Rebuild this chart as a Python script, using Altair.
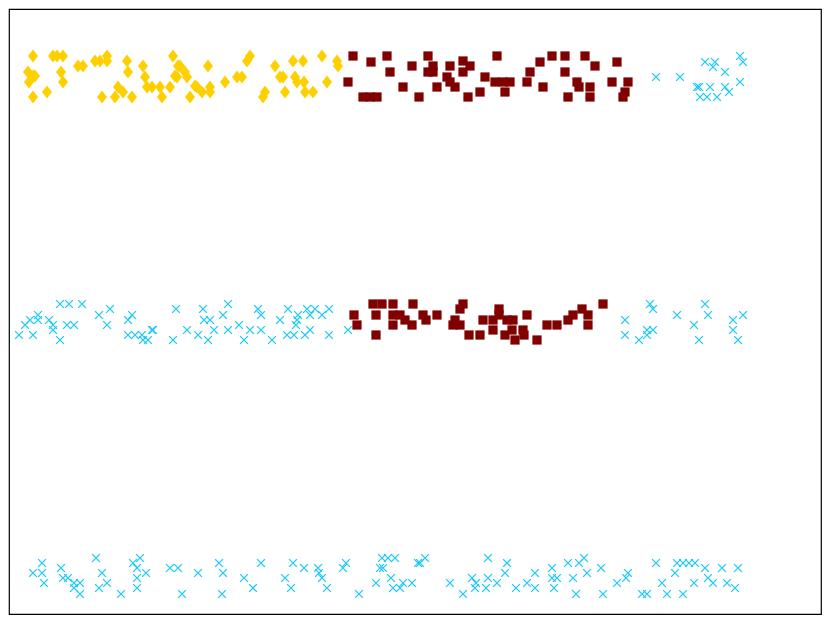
import altair as alt
import pandas as pd

# ---- data (x: horizontal position value, y: row value incl. jitter) ----
gold_x = [33, 53, 57, 63, 28, 33, 29, 33, 47, 61, 63, 78, 83, 95, 100, 107, 107, 127, 128, 143,
          145, 147, 152, 160, 170, 162, 118, 115, 123, 132, 102, 173, 178, 185, 177, 187, 208, 190,
          197, 202, 210, 210, 225, 237, 242, 247, 250, 265, 263, 275, 280, 283, 285, 293, 295, 297,
          303, 304, 305, 313, 322, 327, 337, 338, 35, 180, 175, 195]
gold_y = [56, 56, 56, 56, 72, 76, 82, 97, 92, 72, 82, 66, 66, 61, 61, 56, 61, 61, 72, 66,
          77, 87, 87, 87, 87, 97, 87, 97, 92, 97, 97, 56, 66, 72, 77, 77, 66, 97,
          87, 92, 87, 92, 82, 77, 77, 61, 56, 92, 97, 66, 77, 77, 92, 61, 77, 82,
          61, 82, 92, 92, 56, 82, 61, 66, 76, 66, 76, 86]

maroon_x = [353, 371, 387, 390, 412, 348, 403, 363, 370, 377, 419,
            428, 433, 428, 433, 437, 450, 447, 450, 455, 463, 470, 463, 468, 480, 485, 497,
            495, 503, 510, 505, 527, 530, 540, 543, 552, 565, 565, 568, 577, 579, 590, 590,
            585, 595, 612, 617, 628, 625, 623,
            354, 357, 373, 382, 376, 376, 393, 393, 393, 400, 405, 412, 413, 423, 426, 437,
            463, 460, 455, 453, 460, 469, 480, 483, 493, 499, 499, 493, 505, 507, 513, 512,
            515, 523, 524, 527, 537, 547, 557, 568, 573, 582, 588, 588, 603]
maroon_y = [56, 62, 56, 72, 66, 82, 87, 97, 97, 97, 97,
            56, 66, 72, 72, 87, 66, 77, 82, 87, 61, 66, 72, 97, 92, 77, 56,
            82, 82, 82, 92, 82, 72, 62, 87, 56, 56, 72, 97, 82, 87, 87, 97,
            56, 66, 82, 62, 82, 92, 97,
            315, 325, 304, 304, 315, 335, 304, 315, 325, 315, 320, 325, 304, 315, 320, 315,
            304, 309, 320, 325, 325, 335, 335, 320, 320, 309, 315, 330, 335, 320, 320, 330,
            340, 330, 335, 315, 340, 325, 325, 320, 315, 309, 315, 325, 304]

blue_x = [656, 680, 697, 699, 700, 705, 715, 713, 710, 707, 717, 725, 725, 729, 740, 743, 740,
          19, 33, 25, 30, 38, 38, 49, 53, 53, 60, 60, 69, 82, 67, 74, 99, 110, 107, 128, 132,
          128, 135, 142, 143, 148, 152, 153, 173, 176, 187, 198, 203, 204, 210, 208, 214, 223,
          228, 228, 239, 244, 250, 258, 261, 261, 272, 280, 288, 297, 296, 298, 287, 294, 305,
          310, 307, 310, 315, 322, 329, 329, 348,
          625, 625, 639, 647, 647, 653, 650, 653, 677, 694, 705, 708, 699, 733, 733, 738, 743,
          42, 33, 42, 44, 61, 63, 68, 74, 80, 74, 80, 96, 102, 107, 99, 121, 133, 140, 137,
          146, 137, 137, 170, 178, 182, 198, 219, 223, 222, 244, 253, 261, 285, 291, 293, 304,
          318, 319, 322, 327, 343, 346, 359, 376, 380, 383, 382, 388, 395, 391, 393, 400, 403,
          412, 418,
          420, 425, 450, 463, 472, 476, 475, 486, 488, 488, 497, 505, 507, 516, 527, 535, 535,
          552, 552, 557, 554, 568, 573, 576, 579, 584, 587, 601, 603, 617, 626, 628, 642, 647,
          656, 662, 667, 675, 677, 683, 689, 695, 683, 694, 705, 708, 713, 722, 727, 735, 738]
blue_y = [77, 77, 87, 87, 97, 62, 62, 67, 87, 97, 97, 72, 87, 92, 56, 62, 82,
          335, 335, 325, 320, 315, 320, 320, 325, 330, 340, 304, 304, 304, 325, 325, 315, 309,
          325, 320, 315, 335, 335, 335, 340, 340, 330, 330, 340, 309, 330, 335, 309, 320, 320,
          340, 330, 315, 304, 330, 325, 340, 330, 309, 315, 330, 340, 320, 309, 320, 325, 315,
          335, 335, 335, 330, 309, 315, 309, 315, 309, 335, 330,
          320, 335, 340, 330, 335, 330, 304, 309, 315, 325, 304, 315, 340, 320, 330, 340, 315,
          563, 573, 573, 583, 568, 578, 578, 583, 583, 588, 594, 558, 573, 583, 588, 594, 563,
          558, 568, 573, 578, 588, 568, 568, 594, 573, 563, 573, 594, 578, 588, 563, 578, 588,
          563, 568, 568, 573, 578, 588, 568, 563, 594, 583, 568, 568, 558, 558, 558, 578, 588,
          588, 583, 583, 563,
          563, 558, 583, 594, 578, 583, 588, 588, 578, 558, 583, 573, 563, 588, 583, 573, 588,
          568, 578, 578, 588, 563, 578, 594, 563, 558, 573, 568, 594, 583, 578, 573, 594, 594,
          563, 583, 594, 573, 563, 563, 563, 563, 594, 583, 568, 578, 583, 568, 583, 588, 568]

gold_df = pd.DataFrame({"x": gold_x, "y": gold_y})
maroon_df = pd.DataFrame({"x": maroon_x, "y": maroon_y})
blue_df = pd.DataFrame({"x": blue_x, "y": blue_y})

xs = alt.Scale(domain=[9, 821], nice=False, zero=False)
ys = alt.Scale(domain=[9, 614], nice=False, zero=False, reverse=True)
X = alt.X("x:Q", scale=xs, axis=None)
Y = alt.Y("y:Q", scale=ys, axis=None)

gold = alt.Chart(gold_df).mark_point(
    shape="M0,-1.3L1,0L0,1.3L-1,0Z", filled=True, size=100, color="#FFD000", opacity=1
).encode(x=X, y=Y)

maroon = alt.Chart(maroon_df).mark_point(
    shape="square", filled=True, size=85, color="#800000", opacity=1
).encode(x=X, y=Y)

blue = alt.Chart(blue_df).mark_point(
    shape="M-1,-1L1,1M-1,1L1,-1", filled=False, size=60, color="#1EC8F5",
    strokeWidth=1.3, opacity=1
).encode(x=X, y=Y)

chart = alt.layer(gold, maroon, blue).properties(
    width=812, height=605,
    autosize=alt.AutoSizeParams(type="none"),
    padding=1,
).configure_view(stroke="black", strokeWidth=1.2)

chart.save("out.html", embed_options={"renderer": "svg", "actions": False})
